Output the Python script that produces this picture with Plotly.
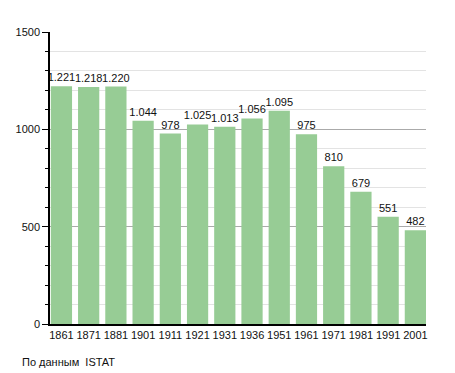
import plotly.graph_objects as go

years = ["1861", "1871", "1881", "1901", "1911", "1921", "1931", "1936", "1951", "1961", "1971", "1981", "1991", "2001"]
population = [1221, 1218, 1220, 1044, 978, 1025, 1013, 1056, 1095, 975, 810, 679, 551, 482]
y_ticks = [0, 500, 1000, 1500]
source_note = "По данным  ISTAT"

fig = go.Figure(go.Bar(
    x=years, y=population,
    marker=dict(color="#97cc95", line=dict(width=0)),
    texttemplate="%{y:,}", textposition="outside",
    textfont=dict(size=11, color="#111"),
    constraintext="none",
    cliponaxis=False,
))

fig.update_layout(
    width=447, height=365,
    margin=dict(l=42, r=29, t=24, b=49, autoexpand=False),
    paper_bgcolor="white", plot_bgcolor="white",
    font=dict(family="Liberation Sans, Arial, sans-serif", size=11, color="#111"),
    separators=",.",
    bargap=0.22,
    showlegend=False,
    xaxis=dict(
        range=[-0.42, 13.39],
        showline=True, linecolor="black", linewidth=1.5,
        ticks="", tickfont=dict(size=11), showgrid=False, automargin=False,
    ),
    yaxis=dict(
        range=[0, 1500], tickvals=y_ticks, automargin=False,
        showline=True, linecolor="black", linewidth=1.5,
        ticks="outside", ticklen=6, tickcolor="black", tickwidth=1,
        showgrid=True, gridcolor="#aaaaaa", gridwidth=1,
        zeroline=False, tickfont=dict(size=11),
        minor=dict(dtick=100, showgrid=True, gridcolor="#e3e3e3", gridwidth=1,
                   ticks="outside", ticklen=3, tickcolor="black"),
    ),
    annotations=[dict(
        text=source_note, xref="paper", yref="paper", x=-30/376, y=-38/292,
        xanchor="left", yanchor="middle", showarrow=False,
        font=dict(size=11, color="#111"),
    )],
)

fig.write_html("out.html")
